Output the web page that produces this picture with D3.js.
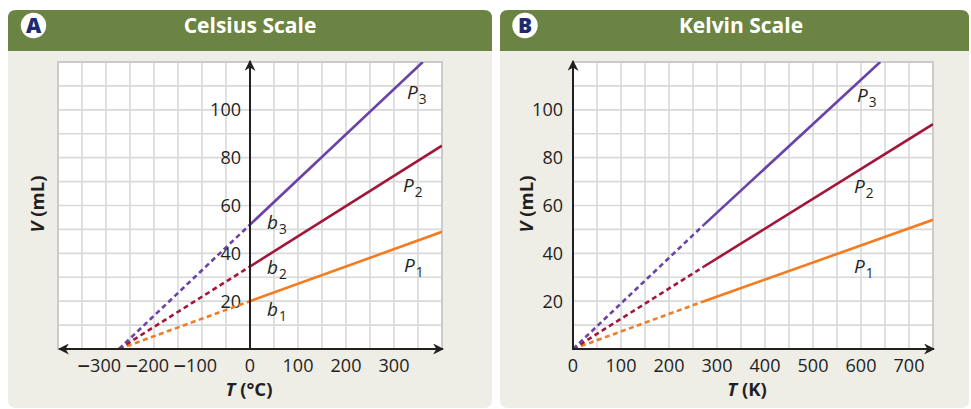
<!DOCTYPE html>
<html>
<head>
<meta charset="utf-8">
<script src="https://cdn.jsdelivr.net/npm/d3@7"></script>
<style>
  html, body { margin: 0; padding: 0; background: #ffffff; }
  svg { display: block; font-family: "Open Sans", "Noto Sans", sans-serif; }
</style>
</head>
<body>
<svg id="chart" width="971" height="409"></svg>
<script>
// ---- Data -------------------------------------------------------------
const seriesNames = ["P1", "P2", "P3"];
const seriesColors = ["#f37b20", "#a1173b", "#6a43a6"];
const interceptLabels = ["b1", "b2", "b3"];

// Volume at 0 °C (273 K) for each pressure
const volumeAtFreezing = [20, 34.5, 52];

// Celsius panel
const celsiusAbsZero = -273;
const celsiusEndT = [400, 400, 360];
const celsiusEndV = [49, 85, 120];
const celsiusTicksX = [-300, -200, -100, 0, 100, 200, 300];

// Kelvin panel
const kelvinFreezing = 273;
const kelvinEndT = [750, 750, 640];
const kelvinEndV = [54, 94, 120];
const kelvinTicksX = [0, 100, 200, 300, 400, 500, 600, 700];

const volumeTicks = [20, 40, 60, 80, 100];

// ---- Layout -----------------------------------------------------------
const svg = d3.select("#chart");
const green = "#6b8443";
const bodyFill = "#eeede6";
const gridColor = "#d9d9d9";
const textColor = "#231f20";
const tickSize = 18;

const defs = svg.append("defs");
[["arrowEnd", "auto"], ["arrowStart", "auto-start-reverse"]].forEach(([id, orient]) => {
  defs.append("marker")
    .attr("id", id)
    .attr("viewBox", "0 0 10 10")
    .attr("refX", 9).attr("refY", 5)
    .attr("markerWidth", 11).attr("markerHeight", 11)
    .attr("markerUnits", "userSpaceOnUse")
    .attr("orient", orient)
    .append("path")
    .attr("d", "M0,0 L10,5 L0,10 L3,5 Z")
    .attr("fill", textColor);
});

function roundedPanel(x0, x1, y0, yHead, y1, r) {
  // header with rounded top corners
  svg.append("path")
    .attr("d", `M${x0},${yHead} L${x0},${y0 + r} Q${x0},${y0} ${x0 + r},${y0} L${x1 - r},${y0} Q${x1},${y0} ${x1},${y0 + r} L${x1},${yHead} Z`)
    .attr("fill", green);
  // body with rounded bottom corners
  svg.append("path")
    .attr("d", `M${x0},${yHead} L${x1},${yHead} L${x1},${y1 - r} Q${x1},${y1} ${x1 - r},${y1} L${x0 + r},${y1} Q${x0},${y1} ${x0},${y1 - r} Z`)
    .attr("fill", bodyFill);
}

function header(cx, badgeX, letter, title) {
  svg.append("circle").attr("cx", badgeX).attr("cy", 25.5).attr("r", 12.7).attr("fill", "#ffffff");
  svg.append("text").attr("x", badgeX).attr("y", 33)
    .attr("text-anchor", "middle").attr("font-weight", 800).attr("font-size", 21)
    .attr("fill", "#1e2a6e").text(letter);
  svg.append("text").attr("x", cx).attr("y", 33)
    .attr("text-anchor", "middle").attr("font-weight", 700).attr("font-size", 21)
    .attr("fill", "#ffffff").text(title);
}

function subLabel(g, x, y, main, sub, size) {
  const t = g.append("text").attr("x", x).attr("y", y)
    .attr("font-size", size).attr("font-style", "italic").attr("fill", textColor);
  t.append("tspan").text(main);
  t.append("tspan").attr("dx", 1).attr("dy", 5).attr("font-size", size * 0.72).attr("font-style", "normal").text(sub);
}

function drawPanel(opt) {
  const x = d3.scaleLinear().domain(opt.xDomain).range([opt.gx0, opt.gx1]);
  const y = d3.scaleLinear().domain([0, 120]).range([349, 62]);
  const g = svg.append("g");

  // grid background
  g.append("rect").attr("x", opt.gx0).attr("y", y(120))
    .attr("width", opt.gx1 - opt.gx0).attr("height", y(0) - y(120))
    .attr("fill", "#ffffff");

  const gridXs = d3.range(opt.xDomain[0], opt.xDomain[1] + 0.001, 50);
  const gridYs = d3.range(0, 120.001, 10);
  g.append("g").selectAll("line").data(gridXs).join("line")
    .attr("x1", d => x(d)).attr("x2", d => x(d))
    .attr("y1", y(0)).attr("y2", y(120))
    .attr("stroke", gridColor).attr("stroke-width", 1.6);
  g.append("g").selectAll("line").data(gridYs).join("line")
    .attr("x1", opt.gx0).attr("x2", opt.gx1)
    .attr("y1", d => y(d)).attr("y2", d => y(d))
    .attr("stroke", gridColor).attr("stroke-width", 1.6);
  g.append("rect").attr("x", opt.gx0).attr("y", y(120))
    .attr("width", opt.gx1 - opt.gx0).attr("height", y(0) - y(120))
    .attr("fill", "none").attr("stroke", "#cbcbcb").attr("stroke-width", 2);

  // volume tick labels
  g.append("g").selectAll("text").data(volumeTicks).join("text")
    .attr("x", opt.yLabelX).attr("y", d => y(d) + 6.5)
    .attr("text-anchor", "end").attr("font-size", tickSize).attr("fill", textColor)
    .text(d => d);

  // temperature tick labels (digits centred on the tick, minus sign hanging left)
  const xl = g.append("g").selectAll("text").data(opt.xTicks).join("text")
    .attr("x", d => d < 0 ? x(d) + 15 : x(d))
    .attr("y", 372)
    .attr("text-anchor", d => d < 0 ? "end" : "middle")
    .attr("font-size", tickSize).attr("fill", textColor);
  xl.filter(d => d < 0).append("tspan").attr("font-size", 25).attr("dy", 1).text("\u2013");
  xl.filter(d => d < 0).append("tspan").attr("dy", -1).text(d => Math.abs(d));
  xl.filter(d => d >= 0).text(d => d);

  // lines
  const clipId = "clip" + opt.id;
  defs.append("clipPath").attr("id", clipId).append("rect")
    .attr("x", opt.gx0).attr("y", y(120)).attr("width", opt.gx1 - opt.gx0).attr("height", y(0) - y(120));
  const lg = g.append("g").attr("clip-path", `url(#${clipId})`);
  const line = d3.line().x(d => x(d[0])).y(d => y(d[1]));
  seriesNames.forEach((name, i) => {
    lg.append("path")
      .attr("d", line([[opt.zeroT, 0], [opt.freezeT, volumeAtFreezing[i]]]))
      .attr("fill", "none").attr("stroke", seriesColors[i])
      .attr("stroke-width", 2.6).attr("stroke-dasharray", "5,3.5");
    lg.append("path")
      .attr("d", line([[opt.freezeT, volumeAtFreezing[i]], [opt.endT[i], opt.endV[i]]]))
      .attr("fill", "none").attr("stroke", seriesColors[i]).attr("stroke-width", 2.6);
  });

  // axes
  g.append("line")
    .attr("x1", opt.xAxisStart).attr("x2", opt.gx1 + 1)
    .attr("y1", y(0)).attr("y2", y(0))
    .attr("stroke", textColor).attr("stroke-width", 2)
    .attr("marker-end", "url(#arrowEnd)")
    .attr("marker-start", opt.leftArrow ? "url(#arrowStart)" : null);
  g.append("line")
    .attr("x1", x(opt.yAxisAt)).attr("x2", x(opt.yAxisAt))
    .attr("y1", y(0) + 1).attr("y2", y(120) - 1)
    .attr("stroke", textColor).attr("stroke-width", 2)
    .attr("marker-end", "url(#arrowEnd)");

  // series labels
  seriesNames.forEach((name, i) => {
    subLabel(g, opt.pLabels[i][0], opt.pLabels[i][1], "P", name.slice(1), 19);
  });
  if (opt.bLabels) {
    interceptLabels.forEach((name, i) => {
      subLabel(g, opt.bLabels[i][0], opt.bLabels[i][1], "b", name.slice(1), 19);
    });
  }

  // axis titles
  const yt = g.append("text")
    .attr("transform", `translate(${opt.yTitleX},204) rotate(-90)`)
    .attr("text-anchor", "middle").attr("font-size", 18.5).attr("font-weight", 700).attr("fill", textColor);
  yt.append("tspan").attr("font-style", "italic").text("V");
  yt.append("tspan").text(" (mL)");

  const xt = g.append("text")
    .attr("x", opt.xTitleX).attr("y", 396)
    .attr("text-anchor", "middle").attr("font-size", 18.5).attr("font-weight", 700).attr("fill", textColor);
  xt.append("tspan").attr("font-style", "italic").text("T");
  xt.append("tspan").text(opt.unit);
}

// ---- Panels -----------------------------------------------------------
roundedPanel(8, 492, 10, 51, 408, 8);
roundedPanel(500, 969, 10, 51, 408, 8);
header(250, 33.5, "A", "Celsius Scale");
header(741, 525, "B", "Kelvin Scale");

drawPanel({
  id: "C",
  xDomain: [-400, 400], gx0: 58, gx1: 442,
  xTicks: celsiusTicksX,
  zeroT: celsiusAbsZero, freezeT: 0,
  endT: celsiusEndT, endV: celsiusEndV,
  yAxisAt: 0, xAxisStart: 59, leftArrow: true,
  yLabelX: 241,
  pLabels: [[404, 272], [403, 192], [407, 99]],
  bLabels: [[267, 316], [267, 274], [267, 229]],
  yTitleX: 44, xTitleX: 249, unit: " (\u00b0C)"
});

drawPanel({
  id: "K",
  xDomain: [0, 750], gx0: 573, gx1: 933,
  xTicks: kelvinTicksX,
  zeroT: 0, freezeT: kelvinFreezing,
  endT: kelvinEndT, endV: kelvinEndV,
  yAxisAt: 0, xAxisStart: 573, leftArrow: false,
  yLabelX: 563,
  pLabels: [[854, 273], [854, 193], [857, 102]],
  bLabels: null,
  yTitleX: 533, xTitleX: 747, unit: " (K)"
});
</script>
</body>
</html>
